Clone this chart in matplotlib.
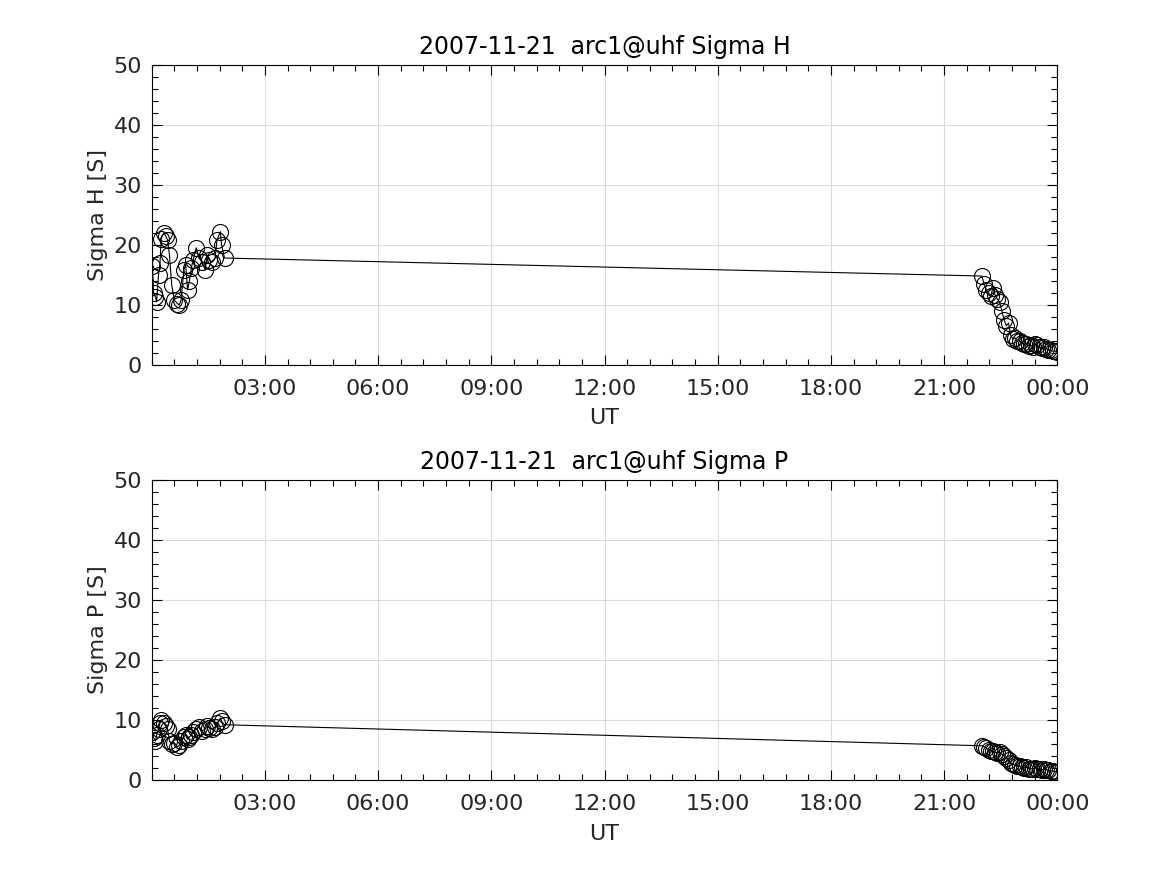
import numpy as np
import matplotlib
matplotlib.use("Agg")
import matplotlib.pyplot as plt
from matplotlib.ticker import MultipleLocator, FixedLocator

# times in hours UT (first pass after midnight, last pass before midnight)
t_early = [0.02, 0.05, 0.10, 0.13, 0.18, 0.22, 0.25, 0.32, 0.37, 0.42, 0.47, 0.53,
           0.60, 0.68, 0.73, 0.78, 0.85, 0.90, 0.95, 1.00, 1.05, 1.10, 1.18, 1.25,
           1.33, 1.42, 1.47, 1.52, 1.60, 1.68, 1.73, 1.82, 1.85, 1.93]
t_late = [22.00, 22.06, 22.12, 22.18, 22.24, 22.29, 22.35, 22.41, 22.47, 22.53,
          22.59, 22.65, 22.71, 22.76, 22.82, 22.88, 22.94, 23.00, 23.06, 23.12,
          23.18, 23.24, 23.29, 23.35, 23.41, 23.47, 23.53, 23.59, 23.65, 23.71,
          23.76, 23.82, 23.88, 23.94, 24.00]

sigH_early = [16.5, 12, 11.3, 10.5, 15, 17, 21, 22, 21.5, 20.8, 18.3, 13.3,
              10.8, 10.2, 10, 10.8, 15.8, 16.7, 12.5, 14, 16.2, 17.5, 19.5, 17.8,
              17.2, 15.8, 18.3, 17.5, 17.2, 17.8, 20.8, 22.2, 20, 17.8]
sigH_late = [14.8, 13.5, 12.5, 12, 11.5, 12.8, 11.7, 11, 10.5, 9, 7.5, 6.5,
             7, 5, 4.3, 4.5, 4, 4, 3.7, 3.5, 3.5, 3.2, 3.3, 3.0, 3.5, 3.3,
             3, 2.8, 3.0, 2.7, 2.5, 2.5, 2.3, 2.3, 2.2]

sigP_early = [8, 7, 6.5, 7.5, 8.5, 9.5, 10, 9.5, 9, 8.5, 6.5, 6, 6.2, 5.5, 5.8,
              6.5, 7.2, 7.5, 6.8, 7.2, 7.5, 8, 8.5, 8.8, 8.2, 8.5, 9, 8.7, 8.5,
              8.8, 9.5, 10.3, 9.8, 9.2]
sigP_late = [5.7, 5.5, 5.3, 5.0, 4.9, 4.8, 4.6, 4.5, 4.6, 4.3, 4.0, 3.7, 3.3,
             2.9, 2.6, 2.5, 2.3, 2.3, 2.2, 2.0, 2.1, 1.9, 1.9, 1.8, 2.0, 1.9,
             1.8, 1.7, 1.8, 1.7, 1.6, 1.5, 1.5, 1.4, 1.3]

xtick_hours = [3, 6, 9, 12, 15, 18, 21, 24]
xtick_labels = ["03:00", "06:00", "09:00", "12:00", "15:00", "18:00", "21:00", "00:00"]

txt = "#262626"
fig = plt.figure(figsize=(11.67, 8.75), dpi=100)
ax1 = fig.add_axes([0.130, 0.583, 0.776, 0.343])
ax2 = fig.add_axes([0.130, 0.1086, 0.776, 0.343])

t = t_early + t_late
panels = [(ax1, sigH_early + sigH_late, "Sigma H"),
          (ax2, sigP_early + sigP_late, "Sigma P")]

for ax, vals, name in panels:
    ax.plot(t, vals, color="black", lw=0.8, marker="o", mfc="none",
            mec="black", ms=11.5, mew=0.8)
    ax.set_xlim(0, 24)
    ax.set_ylim(0, 50)
    ax.xaxis.set_major_locator(FixedLocator(xtick_hours))
    ax.set_xticklabels(xtick_labels)
    ax.xaxis.set_minor_locator(MultipleLocator(0.6))
    ax.yaxis.set_major_locator(MultipleLocator(10))
    ax.yaxis.set_minor_locator(MultipleLocator(2))
    ax.grid(True, which="major", color="#dcdcdc", lw=0.8)
    ax.set_axisbelow(True)
    ax.tick_params(which="both", direction="in", top=True, right=True,
                   labelsize=16, labelcolor=txt, color="black")
    ax.tick_params(which="major", length=7, width=0.8, pad=7)
    ax.tick_params(axis="x", which="major", pad=10)
    ax.tick_params(which="minor", length=4, width=0.8)
    for s in ax.spines.values():
        s.set_linewidth(0.8)
    ax.set_xlabel("UT", fontsize=16, color=txt, labelpad=7)
    ax.set_ylabel(name + " [S]", fontsize=16, color=txt, labelpad=4)
    ax.set_title("2007-11-21  arc1@uhf " + name, fontsize=17, color="black", pad=8)

fig.savefig("out.png", dpi=100)
